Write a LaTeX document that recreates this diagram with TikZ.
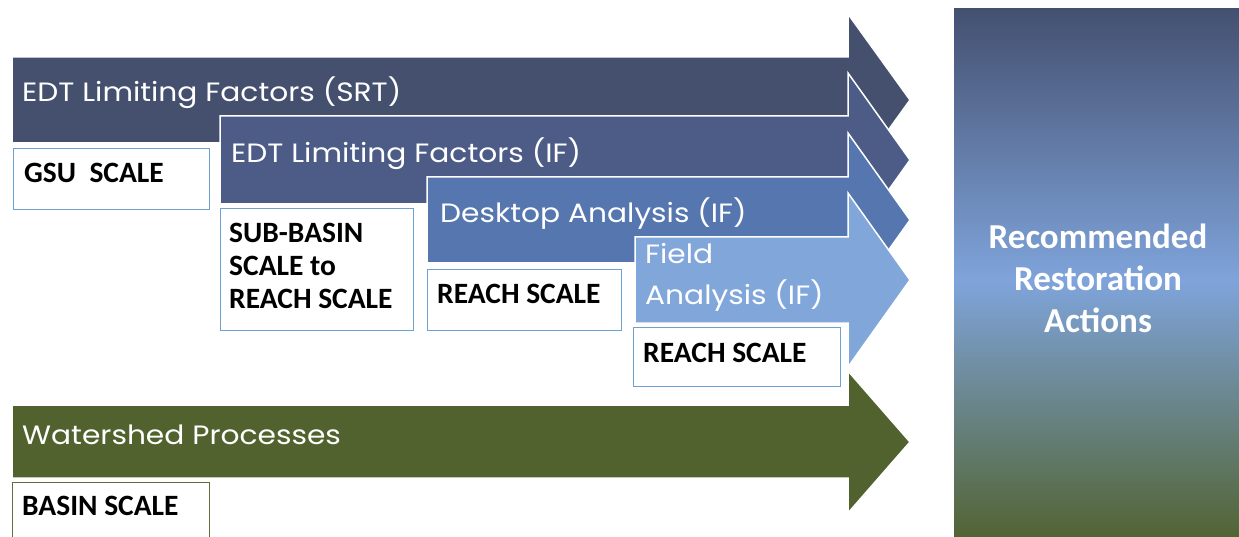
\documentclass[tikz,border=0pt]{standalone}
\usepackage{fontspec}
\setmainfont{Carlito}
\newfontfamily\arrowfont{Poppins}[FakeStretch=1.12]
\usetikzlibrary{calc}

\definecolor{srtcol}{RGB}{68,80,110}
\definecolor{ifcol}{RGB}{76,92,135}
\definecolor{deskcol}{RGB}{86,118,176}
\definecolor{fieldcol}{RGB}{128,166,218}
\definecolor{watercol}{RGB}{82,98,46}
\definecolor{boxblue}{RGB}{110,160,210}
\definecolor{boxolive}{RGB}{95,110,60}
\definecolor{paneltop}{RGB}{68,80,112}
\definecolor{panelmid}{RGB}{127,164,219}
\definecolor{panelbot}{RGB}{82,100,52}

\begin{document}
\begin{tikzpicture}
    [   x=1pt, y=-1pt,
        bigarrow/.style={fill=#1,draw=white,line width=1.5pt},
        arrowtext/.style={text=white,anchor=base west,inner sep=0pt,
            font=\arrowfont\fontsize{26.5}{41}\selectfont},
        scalebox/.style={draw=#1,fill=white,line width=1.2pt,anchor=north west,inner sep=0pt},
        scaletext/.style={anchor=base west,inner sep=0pt,
            font=\bfseries\fontsize{29.5}{33}\selectfont},
    ]
        \useasboundingbox (0,0) rectangle (1239,537);
        \clip (0,0) rectangle (1239,537);

        % draw the arrows
        \filldraw[bigarrow=srtcol] (12,57) -- (848,57) -- (848,14) -- (910,100)
            -- (848,186) -- (848,143) -- (12,143) -- cycle;
        \filldraw[bigarrow=ifcol] (220,116) -- (848,116) -- (848,73) -- (910,160)
            -- (848,247) -- (848,204) -- (220,204) -- cycle;
        \filldraw[bigarrow=deskcol] (427,177) -- (848,177) -- (848,133) -- (910,220)
            -- (848,307) -- (848,263) -- (427,263) -- cycle;
        \filldraw[bigarrow=fieldcol] (635,237) -- (848,237) -- (848,193) -- (910,280)
            -- (848,367) -- (848,323) -- (635,323) -- cycle;
        \filldraw[bigarrow=watercol] (12,405) -- (848,405) -- (848,371) -- (910,442)
            -- (848,513) -- (848,478) -- (12,478) -- cycle;

        % arrow labels
        \node[arrowtext] (srt) at (22,102) {EDT Limiting Factors (SRT)};
        \node[arrowtext] (if) at (231,163) {EDT Limiting Factors (IF)};
        \node[arrowtext] (desk) at (440,223) {Desktop Analysis (IF)};
        \node[arrowtext] (field) at (645,264) {\vtop{\hbox{Field}\hbox{Analysis (IF)}}};
        \node[arrowtext] (water) at (22,444) {Watershed Processes};

        % draw the scale boxes
        \node[scalebox=boxblue, minimum width=196, minimum height=61] (gsu) at (13,148) {};
        \node[scalebox=boxblue, minimum width=193, minimum height=122] (subbasin) at (220,208) {};
        \node[scalebox=boxblue, minimum width=194, minimum height=61] (reach) at (427,269) {};
        \node[scalebox=boxblue, minimum width=207, minimum height=59] (fieldreach) at (633,327) {};
        \node[scalebox=boxolive, minimum width=197, minimum height=70] (basin) at (12,482) {};

        \node[scaletext] (gsutext) at ($(gsu.north west)+(11,35)$) {GSU\ \ SCALE};
        \node[scaletext] (subbasintext) at ($(subbasin.north west)+(9,35)$)
            {\vtop{\hbox{SUB-BASIN}\hbox{SCALE to}\hbox{REACH SCALE}}};
        \node[scaletext] (reachtext) at ($(reach.north west)+(10,34)$) {REACH SCALE};
        \node[scaletext] (fieldreachtext) at ($(fieldreach.north west)+(10,35)$) {REACH SCALE};
        \node[scaletext] (basintext) at ($(basin.north west)+(10,33)$) {BASIN SCALE};

        % the result panel
        \shade[top color=paneltop, bottom color=panelmid] (954,9) rectangle (1239,281);
        \shade[top color=panelmid, bottom color=panelbot] (954,280) rectangle (1239,537);
        \node[text=white, align=center, font=\bfseries\fontsize{35}{42}\selectfont]
            (result) at (1098,278) {Recommended\\Restoration\\Actions};
\end{tikzpicture}
\end{document}
